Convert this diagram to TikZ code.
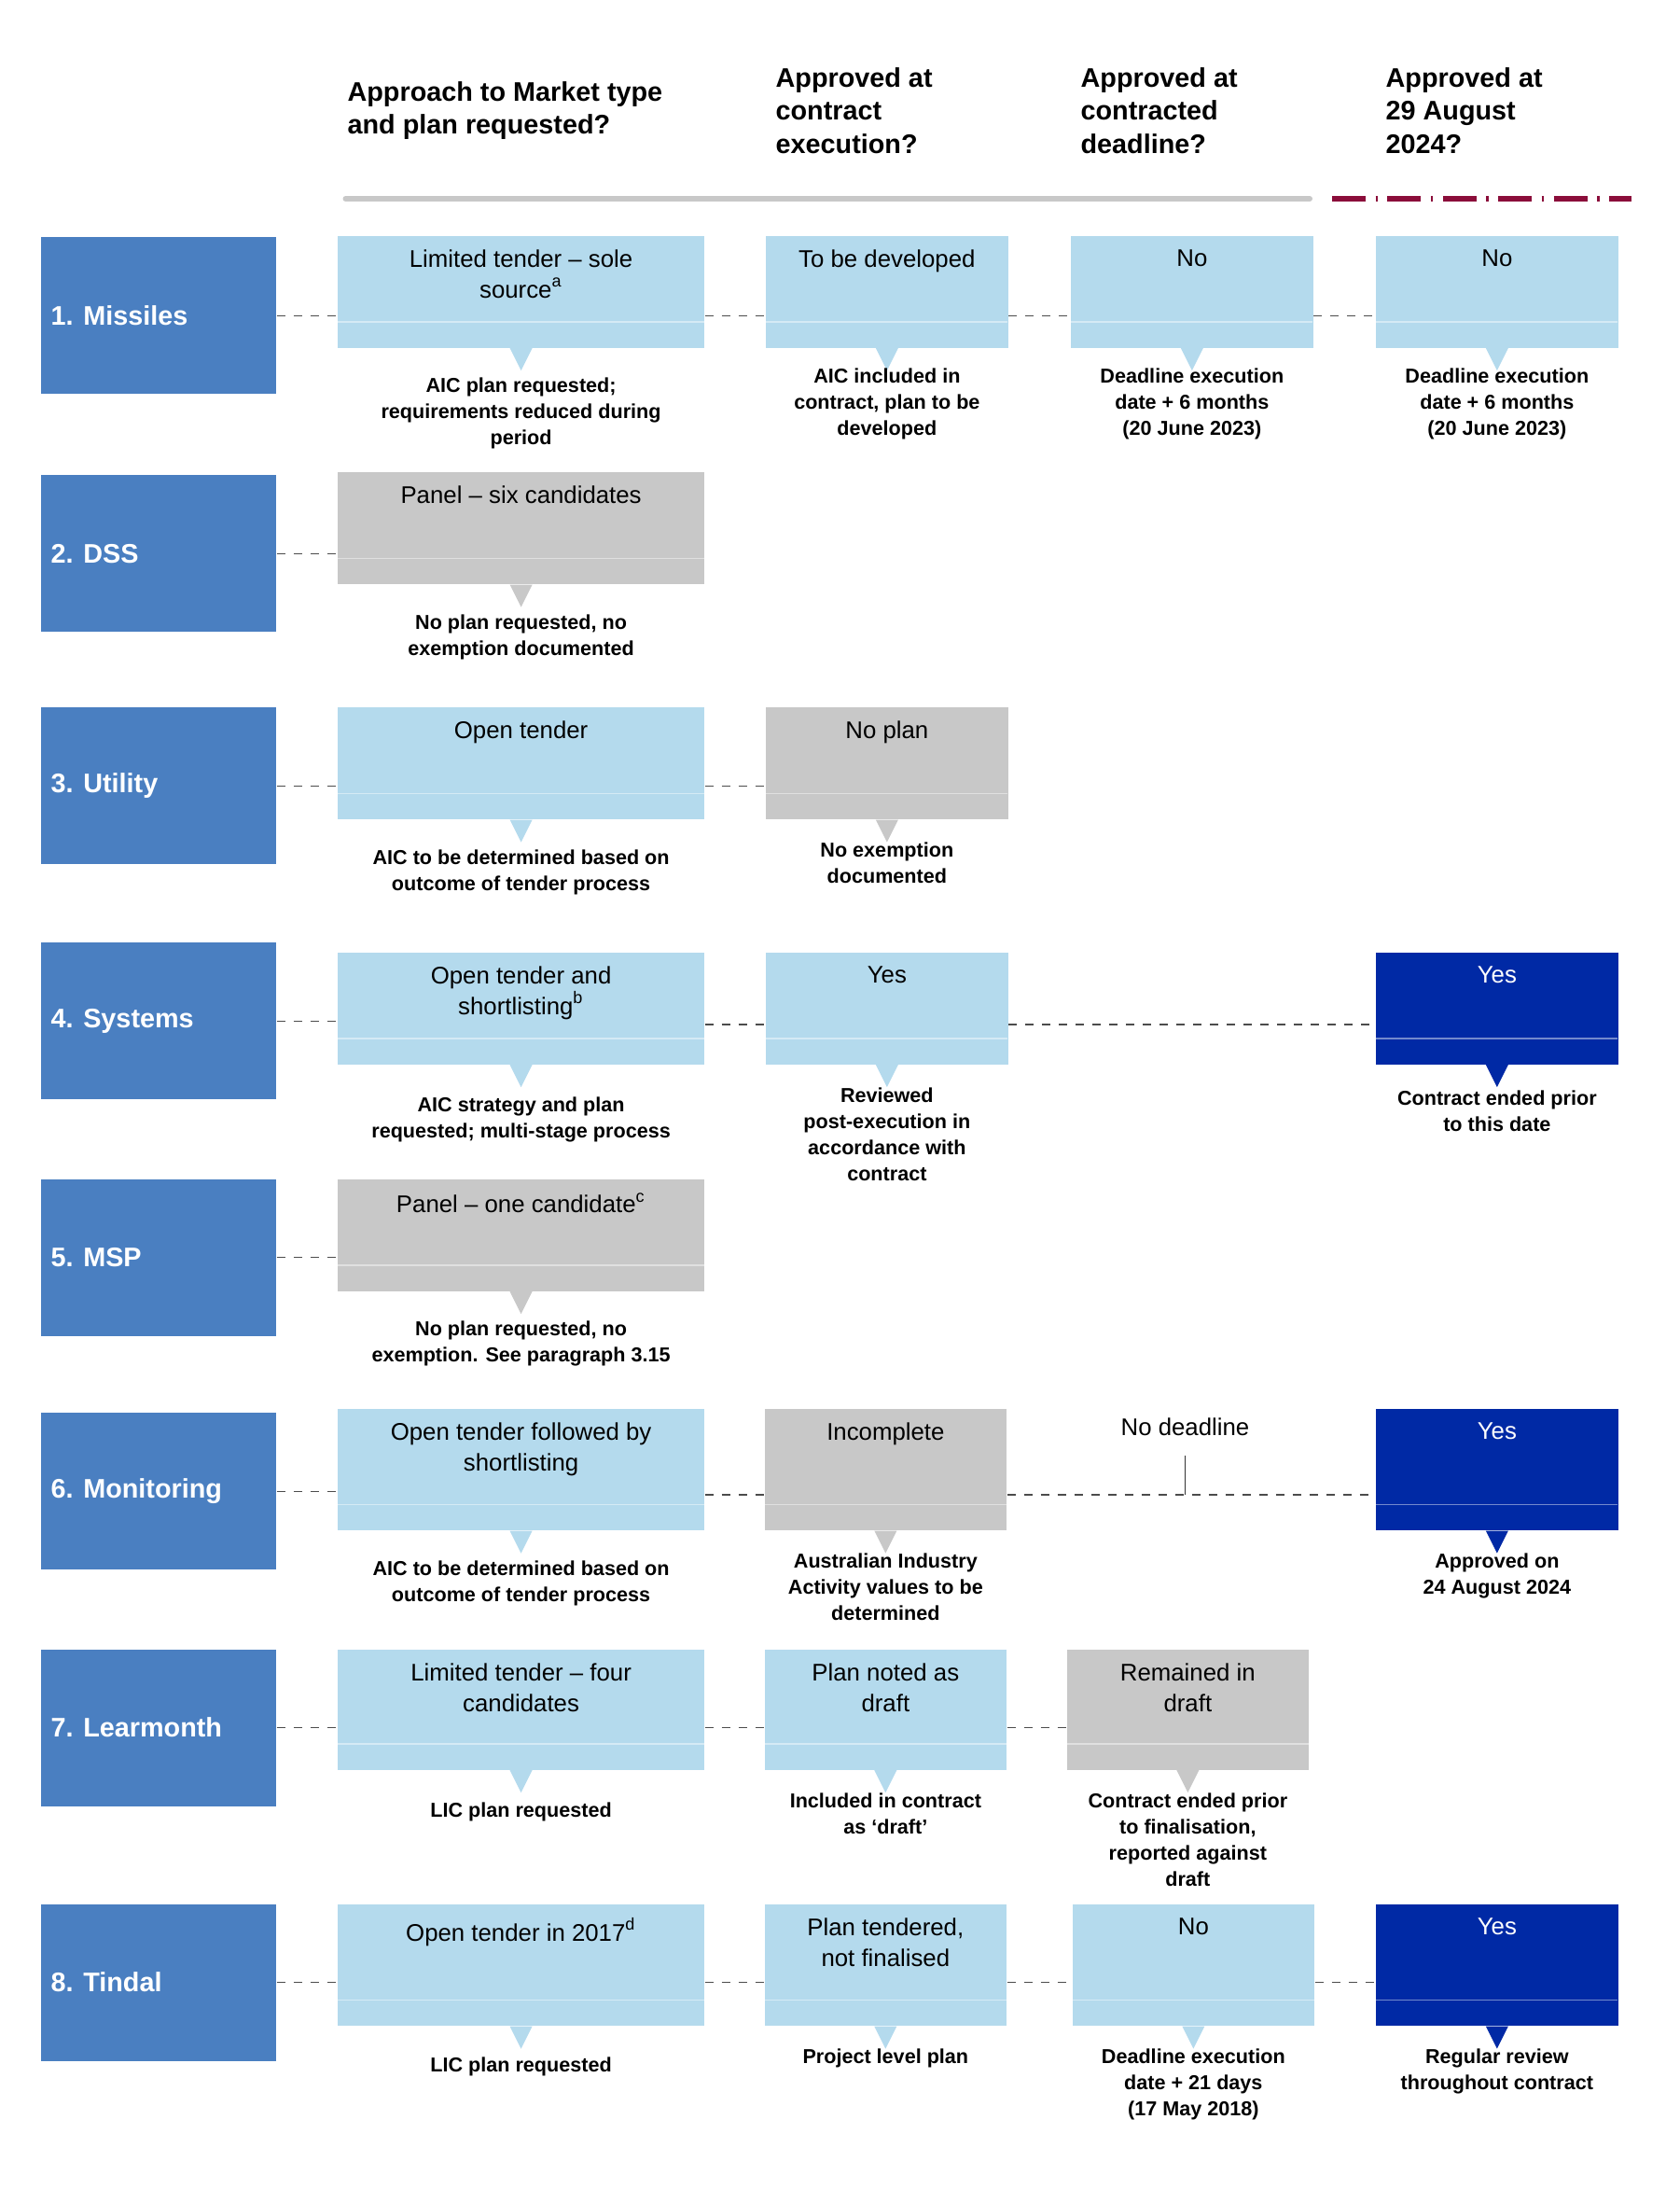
\documentclass[tikz,border=0pt]{standalone}
\usepackage{fontspec}
\setmainfont{Liberation Sans}
\definecolor{lb}{HTML}{B4DAED}
\definecolor{gr}{HTML}{C8C8C8}
\definecolor{db}{HTML}{0029A5}
\definecolor{rb}{HTML}{4A7FC1}
\definecolor{dred}{HTML}{8B0D3A}
\tikzset{
 conn/.style={draw=black!70,dashed,line width=0.4pt},
 boxtxt/.style={anchor=north,align=center,font=\fontsize{8.6}{11}\selectfont,inner sep=0pt},
 subtxt/.style={anchor=north,align=center,font=\bfseries\fontsize{7.2}{9.3}\selectfont,inner sep=0pt},
 rowlab/.style={fill=rb,anchor=north west,inner sep=0pt,minimum width=84pt,minimum height=56pt},
 head/.style={anchor=north west,align=left,font=\bfseries\fontsize{9.6}{11.8}\selectfont,inner sep=0pt}
}
% name x1 y1 x2 y2 color text textcolor
\newcommand\bx[8]{%
 \node[fill=#6,anchor=north west,inner sep=0pt,minimum width={#4*0.5pt-#2*0.5pt},minimum height={#5*0.5pt-#3*0.5pt}] (#1) at (#2,#3) {};
 \draw[white,opacity=0.45,line width=0.6pt] (#2,#5-18) -- (#4,#5-18);
 \fill[#6] ($(#1.south)+(-8,0)$) -- ($(#1.south)+(8,0)$) -- ($(#1.south)+(0,16)$) -- cycle;
 \node[boxtxt,text=#8] (#1t) at ($(#1.north)+(0,10)$) {#7};
}
\newcommand\sub[3]{\node[subtxt] (#1s) at ($(#1.south)+(0,#2)$) {#3};}
\newcommand\rl[3]{\node[rowlab] (#1) at (29,#2) {}; \node[anchor=west,text=white,font=\bfseries\fontsize{9.6}{11}\selectfont,inner sep=0pt] at ($(#1.west)+(7,0)$) {#3};}
\usetikzlibrary{calc}
\begin{document}
\begin{tikzpicture}[x=0.5pt,y=-0.5pt]
\useasboundingbox (0,0) rectangle (1200,1574);
% header
\node[head] at (248,58) {Approach to Market type\\and plan requested?};
\node[head] at (554,48) {Approved at\\contract\\execution?};
\node[head] at (772,48) {Approved at\\contracted\\deadline?};
\node[head] at (990,48) {Approved at\\29 August\\2024?};
\draw[gr,line width=2pt,line cap=round] (247,142) -- (936,142);
\draw[dred,line width=2pt,dash pattern=on 12pt off 3.5pt on 0.8pt off 3.5pt] (952,142) -- (1166,142);
% row labels
\rl{l1}{169}{1. Missiles}
\rl{l2}{339}{2. DSS}
\rl{l3}{505}{3. Utility}
\rl{l4}{673}{4. Systems}
\rl{l5}{842}{5. MSP}
\rl{l6}{1009}{6. Monitoring}
\rl{l7}{1178}{7. Learmonth}
\rl{l8}{1360}{8. Tindal}
% row 1
\bx{b11}{241}{168}{503}{248}{lb}{Limited tender -- sole\\source\textsuperscript{a}}{black}
\bx{b12}{547}{168}{720}{248}{lb}{To be developed}{black}
\bx{b13}{765}{168}{938}{248}{lb}{No}{black}
\bx{b14}{983}{168}{1156}{248}{lb}{No}{black}
\sub{b11}{21}{AIC plan requested;\\requirements reduced during\\period}
\sub{b12}{14}{AIC included in\\contract, plan to be\\developed}
\sub{b13}{14}{Deadline execution\\date + 6 months\\(20 June 2023)}
\sub{b14}{14}{Deadline execution\\date + 6 months\\(20 June 2023)}
\draw[conn] (l1.east) -- (b11.west |- l1.east);
\draw[conn] (b11.east |- l1.east) -- (b12.west |- l1.east);
\draw[conn] (b12.east |- l1.east) -- (b13.west |- l1.east);
\draw[conn] (b13.east |- l1.east) -- (b14.west |- l1.east);
% row 2
\bx{b21}{241}{337}{503}{417}{gr}{Panel -- six candidates}{black}
\sub{b21}{21}{No plan requested, no\\exemption documented}
\draw[conn] (l2.east) -- (b21.west |- l2.east);
% row 3
\bx{b31}{241}{505}{503}{585}{lb}{Open tender}{black}
\bx{b32}{547}{505}{720}{585}{gr}{No plan}{black}
\sub{b31}{21}{AIC to be determined based on\\outcome of tender process}
\sub{b32}{16}{No exemption\\documented}
\draw[conn] (l3.east) -- (b31.west |- l3.east);
\draw[conn] (b31.east |- l3.east) -- (b32.west |- l3.east);
% row 4
\bx{b41}{241}{680}{503}{760}{lb}{Open tender and\\shortlisting\textsuperscript{b}}{black}
\bx{b42}{547}{680}{720}{760}{lb}{Yes}{black}
\bx{b44}{983}{680}{1156}{760}{db}{Yes}{white}
\sub{b41}{23}{AIC strategy and plan\\requested; multi-stage process}
\sub{b42}{16}{Reviewed\\post-execution in\\accordance with\\contract}
\sub{b44}{18}{Contract ended prior\\to this date}
\draw[conn] (l4.east) -- (b41.west |- l4.east);
\coordinate (r4) at (0,732);
\draw[conn] (b41.east |- r4) -- (b42.west |- r4);
\draw[conn] (b42.east |- r4) -- (b44.west |- r4);
% row 5
\bx{b51}{241}{842}{503}{922}{gr}{Panel -- one candidate\textsuperscript{c}}{black}
\sub{b51}{21}{No plan requested, no\\exemption. See paragraph 3.15}
\draw[conn] (l5.east) -- (b51.west |- l5.east);
% row 6
\bx{b61}{241}{1006}{503}{1093}{lb}{Open tender followed by\\shortlisting}{black}
\bx{b62}{546}{1006}{719}{1093}{gr}{Incomplete}{black}
\bx{b64}{983}{1006}{1156}{1093}{db}{Yes}{white}
\sub{b61}{21}{AIC to be determined based on\\outcome of tender process}
\sub{b62}{16}{Australian Industry\\Activity values to be\\determined}
\sub{b64}{16}{Approved on\\24 August 2024}
\node[boxtxt] (nd) at (847,1013) {No deadline};
\coordinate (r6) at (0,1068);
\draw[conn] (l6.east) -- (b61.west |- l6.east);
\draw[conn] (b61.east |- r6) -- (b62.west |- r6);
\draw[conn] (b62.east |- r6) -- (b64.west |- r6);
\draw[black!80,line width=0.5pt] (847,1040) -- (847,1068);
% row 7
\bx{b71}{241}{1178}{503}{1264}{lb}{Limited tender -- four\\candidates}{black}
\bx{b72}{546}{1178}{719}{1264}{lb}{Plan noted as\\draft}{black}
\bx{b73}{762}{1178}{935}{1264}{gr}{Remained in\\draft}{black}
\sub{b71}{23}{LIC plan requested}
\sub{b72}{16}{Included in contract\\as `draft'}
\sub{b73}{16}{Contract ended prior\\to finalisation,\\reported against\\draft}
\draw[conn] (l7.east) -- (b71.west |- l7.east);
\draw[conn] (b71.east |- l7.east) -- (b72.west |- l7.east);
\draw[conn] (b72.east |- l7.east) -- (b73.west |- l7.east);
% row 8
\bx{b81}{241}{1360}{503}{1447}{lb}{Open tender in 2017\textsuperscript{d}}{black}
\bx{b82}{546}{1360}{719}{1447}{lb}{Plan tendered,\\not finalised}{black}
\bx{b83}{766}{1360}{939}{1447}{lb}{No}{black}
\bx{b84}{983}{1360}{1156}{1447}{db}{Yes}{white}
\sub{b81}{22}{LIC plan requested}
\sub{b82}{16}{Project level plan}
\sub{b83}{16}{Deadline execution\\date + 21 days\\(17 May 2018)}
\sub{b84}{16}{Regular review\\throughout contract}
\draw[conn] (l8.east) -- (b81.west |- l8.east);
\draw[conn] (b81.east |- l8.east) -- (b82.west |- l8.east);
\draw[conn] (b82.east |- l8.east) -- (b83.west |- l8.east);
\draw[conn] (b83.east |- l8.east) -- (b84.west |- l8.east);
\end{tikzpicture}
\end{document}
